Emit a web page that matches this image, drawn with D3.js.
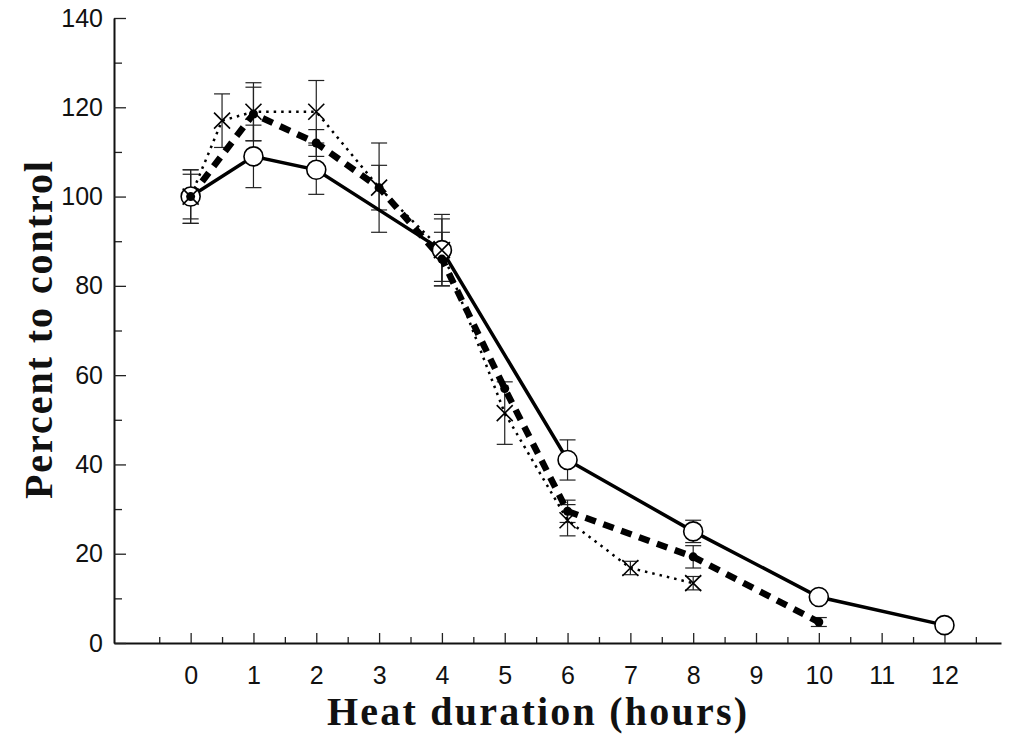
<!DOCTYPE html>
<html>
<head>
<meta charset="utf-8">
<script src="https://cdn.jsdelivr.net/npm/d3@7"></script>
<style>
  body { margin: 0; background: #fff; }
  svg { display: block; }
  .tick text { font-family: "Liberation Sans", Arial, sans-serif; font-size: 25px; fill: #111; }
  .title { font-family: "Liberation Serif", "Times New Roman", serif; font-weight: bold; font-size: 40px; fill: #111; }
</style>
</head>
<body>
<script>
// hours and percent-to-control for each treatment
var hoursSolid = [0, 1, 2, 4, 6, 8, 10, 12];
var solid      = [100, 109, 106, 88, 41, 25, 10.3, 4];
var solidErr   = [6, 7, 5.5, 7, 4.5, 2.5, 0, 0];

var hoursDashed = [0, 1, 2, 3, 4, 5, 6, 8, 10];
var dashed      = [100, 118.5, 112, 102, 86, 57, 29.5, 19.3, 4.7];
var dashedErr   = [5, 6, 3, 5, 6, 0, 2.5, 2.5, 1];

var hoursDotted = [0, 0.5, 1, 2, 3, 4, 5, 6, 7, 8];
var dotted      = [100, 117, 119, 119, 102, 88, 51.5, 27.5, 16.8, 13.4];
var dottedErr   = [6, 6, 6.5, 7, 10, 8, 7, 3.5, 1.5, 1.5];

var xTicks = [0, 1, 2, 3, 4, 5, 6, 7, 8, 9, 10, 11, 12];
var yTicks = [0, 20, 40, 60, 80, 100, 120, 140];

var width = 1014, height = 735;

var svg = d3.select("body").append("svg")
    .attr("width", width)
    .attr("height", height);

var x = d3.scaleLinear().domain([-1.22, 12.9]).range([114, 1001]);
var y = d3.scaleLinear().domain([0, 140]).range([643, 18]);

function pack(hs, vs, es) {
  return hs.map(function(h, i) { return {h: h, v: vs[i], e: es[i]}; });
}
var sSolid = pack(hoursSolid, solid, solidErr),
    sDashed = pack(hoursDashed, dashed, dashedErr),
    sDotted = pack(hoursDotted, dotted, dottedErr);

// minor ticks
var minorX = d3.range(-0.5, 12.6, 1);
svg.append("g")
    .attr("transform", "translate(0," + y(0) + ")")
    .call(d3.axisBottom(x).tickValues(minorX).tickSize(-6).tickFormat(""))
    .call(function(g) { g.select(".domain").remove(); });

svg.append("g")
    .attr("transform", "translate(" + x.range()[0] + ",0)")
    .call(d3.axisLeft(y).tickValues(d3.range(10, 140, 20)).tickSize(-8).tickFormat(""))
    .call(function(g) { g.select(".domain").remove(); });

// main axes
var xAxis = svg.append("g")
    .attr("transform", "translate(0," + y(0) + ")")
    .call(d3.axisBottom(x).tickValues(xTicks).tickSize(-10).tickPadding(23).tickSizeOuter(0));

var yAxis = svg.append("g")
    .attr("transform", "translate(" + x.range()[0] + ",0)")
    .call(d3.axisLeft(y).tickValues(yTicks).tickSize(-12).tickPadding(11).tickSizeOuter(0));

svg.selectAll(".domain").attr("stroke", "#111").attr("stroke-width", 2);
svg.selectAll(".tick line").attr("stroke", "#222").attr("stroke-width", 1.3);

// error bars
function errBars(data, cls) {
  var g = svg.append("g").attr("class", cls)
      .attr("stroke", "#222").attr("stroke-width", 1.2);
  var d = data.filter(function(p) { return p.e > 0; });
  g.selectAll("line.v").data(d).enter().append("line")
      .attr("x1", function(p) { return x(p.h); })
      .attr("x2", function(p) { return x(p.h); })
      .attr("y1", function(p) { return y(p.v + p.e); })
      .attr("y2", function(p) { return y(p.v - p.e); });
  [1, -1].forEach(function(s) {
    g.selectAll("line.c" + s).data(d).enter().append("line")
        .attr("x1", function(p) { return x(p.h) - 8; })
        .attr("x2", function(p) { return x(p.h) + 8; })
        .attr("y1", function(p) { return y(p.v + s * p.e); })
        .attr("y2", function(p) { return y(p.v + s * p.e); });
  });
}
errBars(sSolid, "err-solid");
errBars(sDashed, "err-dashed");
errBars(sDotted, "err-dotted");

var line = d3.line()
    .x(function(p) { return x(p.h); })
    .y(function(p) { return y(p.v); });

svg.append("path").datum(sSolid)
    .attr("d", line).attr("fill", "none")
    .attr("stroke", "#000").attr("stroke-width", 3.5);

svg.append("path").datum(sDashed)
    .attr("d", line).attr("fill", "none")
    .attr("stroke", "#000").attr("stroke-width", 6.5)
    .style("stroke-dasharray", "11, 8");

svg.append("path").datum(sDotted)
    .attr("d", line).attr("fill", "none")
    .attr("stroke", "#000").attr("stroke-width", 2.5)
    .style("stroke-dasharray", "2.5, 5");

// markers
svg.append("g").selectAll("circle").data(sSolid).enter().append("circle")
    .attr("cx", function(p) { return x(p.h); })
    .attr("cy", function(p) { return y(p.v); })
    .attr("r", 9.5)
    .attr("fill", "#fff").attr("stroke", "#000").attr("stroke-width", 1.6);

svg.append("g").selectAll("circle").data(sDashed).enter().append("circle")
    .attr("cx", function(p) { return x(p.h); })
    .attr("cy", function(p) { return y(p.v); })
    .attr("r", 4.5)
    .attr("fill", "#000");

svg.append("g").selectAll("path").data(sDotted).enter().append("path")
    .attr("transform", function(p) { return "translate(" + x(p.h) + "," + y(p.v) + ")"; })
    .attr("d", "M-8,-8L8,8M-8,8L8,-8")
    .attr("fill", "none").attr("stroke", "#000").attr("stroke-width", 1.6);

// titles
svg.append("text").attr("class", "title")
    .attr("x", 537).attr("y", 725)
    .attr("text-anchor", "middle")
    .attr("textLength", 420).attr("lengthAdjust", "spacing")
    .text("Heat duration (hours)");

svg.append("text").attr("class", "title")
    .attr("transform", "translate(52,330) rotate(-90)")
    .attr("text-anchor", "middle")
    .attr("textLength", 338).attr("lengthAdjust", "spacing")
    .text("Percent to control");
</script>
</body>
</html>
